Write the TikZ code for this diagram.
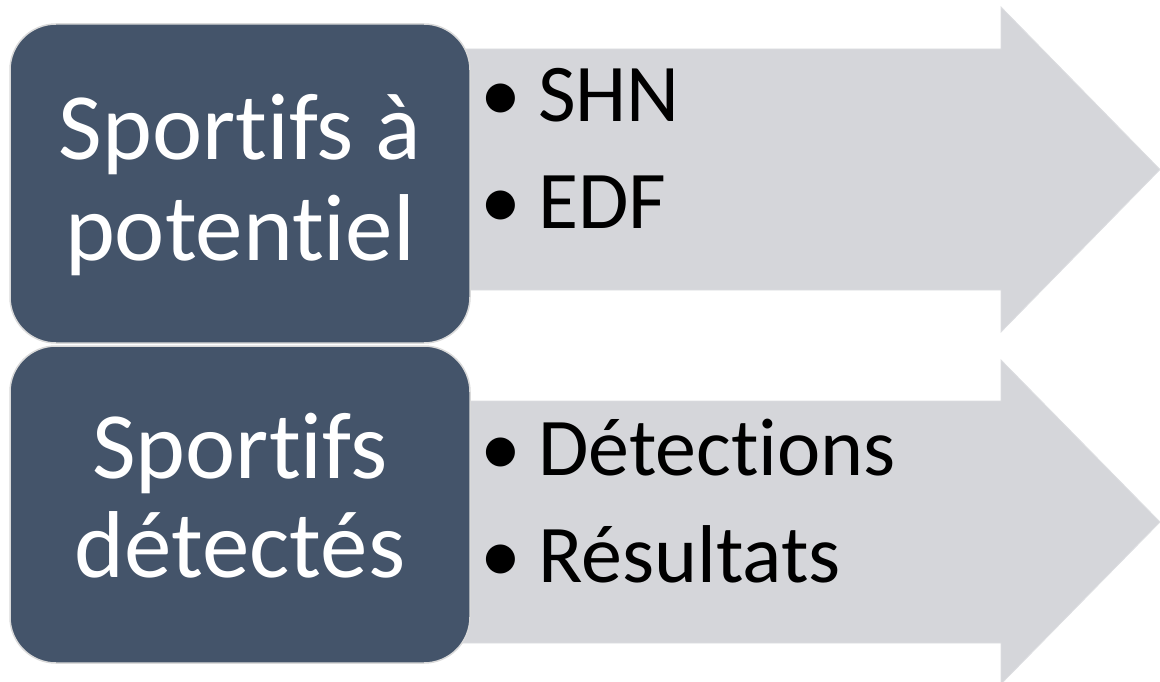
\documentclass[tikz,border=0pt]{standalone}
\usepackage{fontspec}
\setmainfont{Carlito}[Ligatures=NoCommon]
\definecolor{slate}{HTML}{44546A}
\definecolor{arrowgrey}{HTML}{D5D6DA}
\definecolor{rimgrey}{HTML}{DADADA}
\begin{document}
\begin{tikzpicture}[x=1pt,y=-1pt,
        box/.style={rounded corners=46pt, fill=slate, draw=rimgrey, line width=1.5pt},
        arrowbody/.style={fill=arrowgrey, draw=arrowgrey!80!white, line width=0.8pt},
        boxtext/.style={anchor=base, text=white, inner sep=0pt, font=\fontsize{95}{100}\selectfont},
        item/.style={anchor=base west, inner sep=0pt, font=\fontsize{82}{100}\selectfont}]
    \useasboundingbox (0,0) rectangle (1160,682);
    % arrows behind
    \draw [arrowbody] (440,49) -- (1001,49) -- (1001,7) -- (1160,169.5)
        -- (1001,332) -- (1001,290) -- (440,290) -- cycle;
    \draw [arrowbody] (440,401) -- (1001,401) -- (1001,360) -- (1160,522)
        -- (1001,684) -- (1001,643) -- (440,643) -- cycle;
    % boxes
    \draw [box] (10,24) rectangle (470,343);
    \draw [box] (10,346) rectangle (470,663);
    \node [boxtext] (t1) at (240,160) {Sportifs à};
    \node [boxtext] (t2) at (240,260) {potentiel};
    \node [boxtext] (t3) at (240,478) {Sportifs};
    \node [boxtext] (t4) at (240,577) {détectés};
    % bullets
    \node [item] (shn) at (480,122) {\makebox[58pt][l]{•}SHN};
    \node [item] (edf) at (480,228) {\makebox[58pt][l]{•}EDF};
    \node [item] (det) at (480,475) {\makebox[58pt][l]{•}Détections};
    \node [item] (res) at (480,582) {\makebox[58pt][l]{•}Résultats};
\end{tikzpicture}
\end{document}
